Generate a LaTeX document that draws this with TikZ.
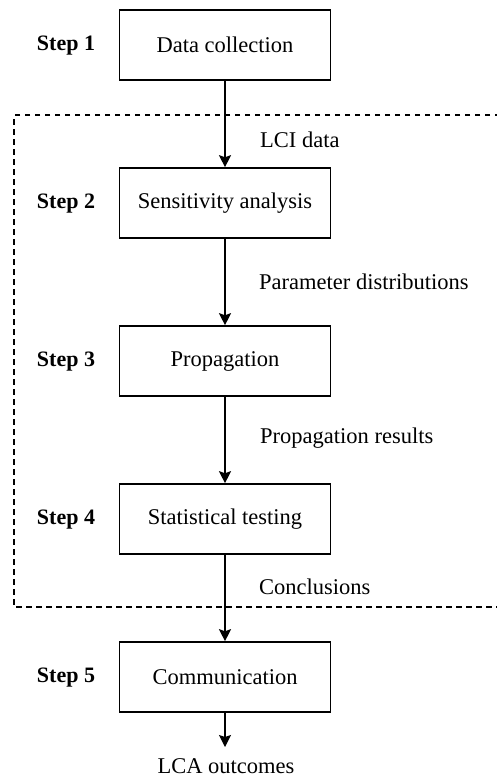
\documentclass[tikz,border=0pt]{standalone}
\usepackage{fontspec}
\setmainfont{Liberation Serif}
\usetikzlibrary{arrows.meta}
\begin{document}
\begin{tikzpicture}[x=1pt,y=-1pt,
  font=\fontsize{22.5}{25}\selectfont,
  stepbox/.style={draw, line width=1.6pt, minimum width=211pt, minimum height=70pt, inner sep=0pt},
  steplabel/.style={font=\fontsize{22}{25}\selectfont\bfseries},
  flowlabel/.style={anchor=west, inner sep=0pt},
  flow/.style={line width=1.4pt, -{Stealth[width=12pt,length=12pt,inset=2pt]}},
  groupframe/.style={line width=1.3pt, dash pattern=on 5.5pt off 4.5pt}]
  \useasboundingbox (0,0) rectangle (496,780);

  % dashed frame around steps 2-4 (runs off the right edge)
  \draw[groupframe] (520,115) -- (14,115) -- (14,607) -- (520,607);

  % process boxes
  \node[stepbox] (s1) at (225,45)  {Data collection};
  \node[stepbox] (s2) at (225,203) {Sensitivity analysis};
  \node[stepbox] (s3) at (225,361) {Propagation};
  \node[stepbox] (s4) at (225,519) {Statistical testing};
  \node[stepbox] (s5) at (225,677) {Communication};

  % step numbers
  \node[steplabel] (l1) at (66,46)  {Step 1};
  \node[steplabel] (l2) at (66,204) {Step 2};
  \node[steplabel] (l3) at (66,362) {Step 3};
  \node[steplabel] (l4) at (66,520) {Step 4};
  \node[steplabel] (l5) at (66,678) {Step 5};

  % output end of the last arrow
  \coordinate (out) at (225,747);
  \node (res) at (226,766) {LCA outcomes};

  % connectors
  \draw[flow] (s1) -- (s2);
  \draw[flow] (s2) -- (s3);
  \draw[flow] (s3) -- (s4);
  \draw[flow] (s4) -- (s5);
  \draw[flow] (s5) -- (out);

  % connector labels
  \node[flowlabel] (t1) at (260,140) {LCI data};
  \node[flowlabel] (t2) at (259,282) {Parameter distributions};
  \node[flowlabel] (t3) at (260,438) {Propagation results};
  \node[flowlabel] (t4) at (259,587) {Conclusions};
\end{tikzpicture}
\end{document}
